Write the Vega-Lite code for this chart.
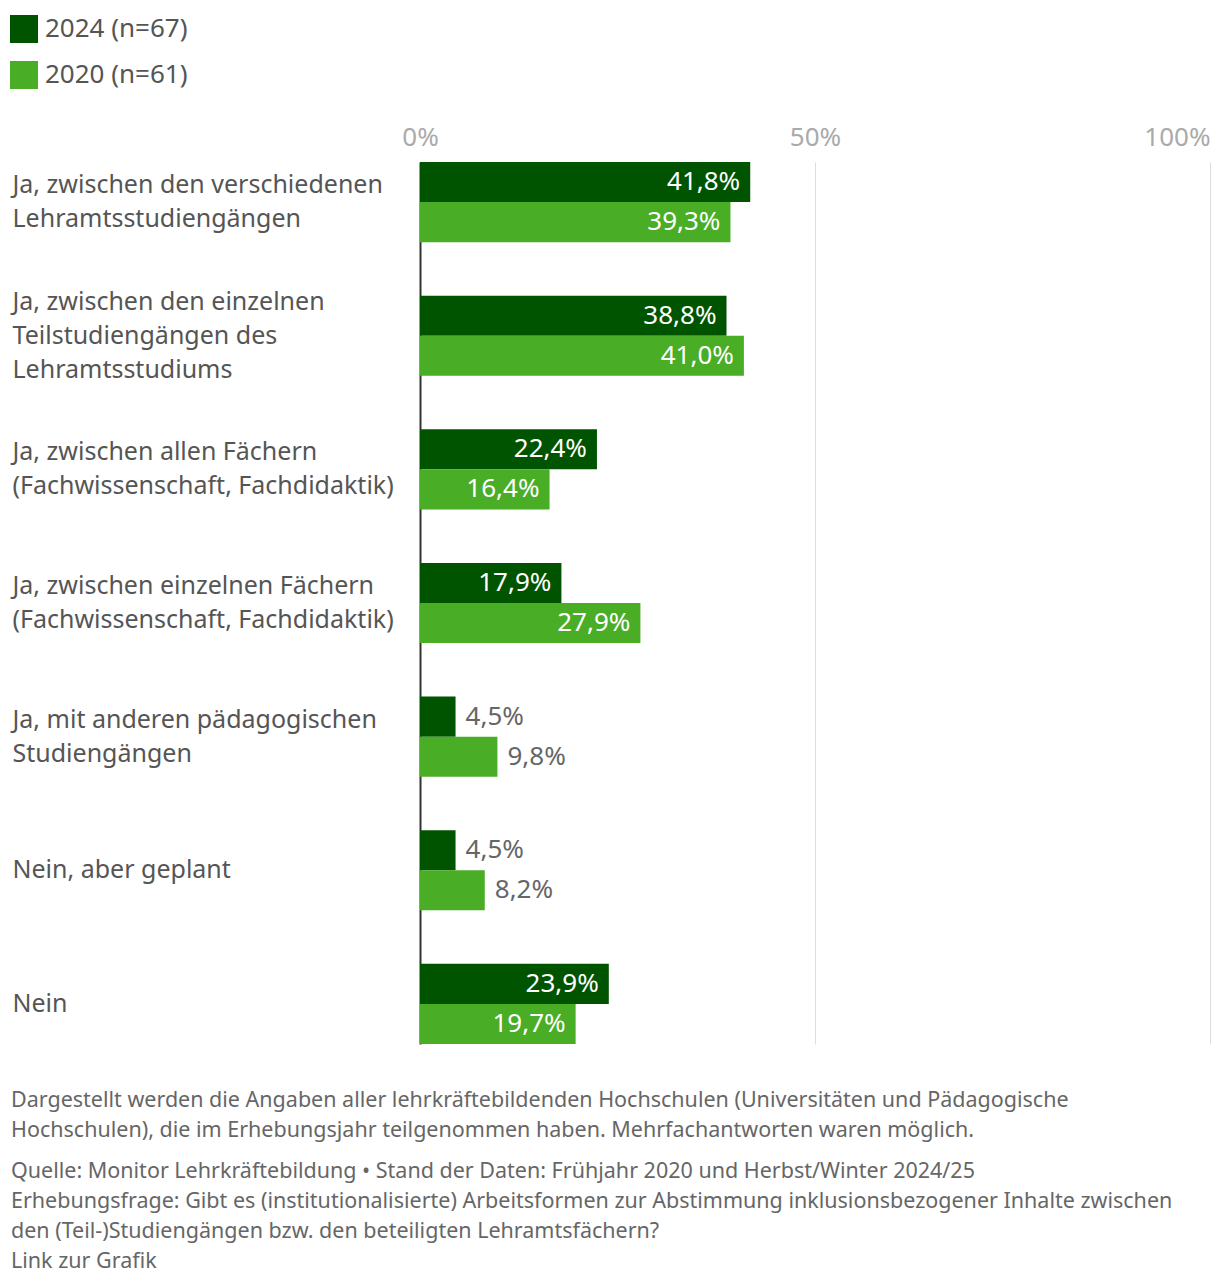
{
  "$schema": "https://vega.github.io/schema/vega-lite/v6.json",
  "width": 790,
  "height": 882,
  "autosize": {"type": "none"},
  "padding": {"left": 420, "top": 162, "right": 10, "bottom": 240},
  "background": "white",
  "config": {
    "locale": {"number": {"decimal": ",", "thousands": ".", "grouping": [3], "currency": ["", " €"]}},
    "font": "Noto Sans",
    "view": {"stroke": null}
  },
  "title": {
    "text": [
      "Dargestellt werden die Angaben aller lehrkräftebildenden Hochschulen (Universitäten und Pädagogische",
      "Hochschulen), die im Erhebungsjahr teilgenommen haben. Mehrfachantworten waren möglich."
    ],
    "subtitle": [
      "Quelle: Monitor Lehrkräftebildung • Stand der Daten: Frühjahr 2020 und Herbst/Winter 2024/25",
      "Erhebungsfrage: Gibt es (institutionalisierte) Arbeitsformen zur Abstimmung inklusionsbezogener Inhalte zwischen",
      "den (Teil-)Studiengängen bzw. den beteiligten Lehramtsfächern?",
      "Link zur Grafik"
    ],
    "orient": "bottom",
    "anchor": "start",
    "frame": "group",
    "dx": -409,
    "offset": 46,
    "fontSize": 21.5,
    "fontWeight": "normal",
    "color": "#666666",
    "lineHeight": 30,
    "subtitleFontSize": 21.5,
    "subtitleColor": "#666666",
    "subtitleLineHeight": 30,
    "subtitlePadding": 19
  },
  "data": {
    "values": [
      {"answer": "Ja, zwischen den verschiedenen\nLehramtsstudiengängen", "year": "2024 (n=67)", "value": 0.418},
      {"answer": "Ja, zwischen den verschiedenen\nLehramtsstudiengängen", "year": "2020 (n=61)", "value": 0.393},
      {"answer": "Ja, zwischen den einzelnen\nTeilstudiengängen des\nLehramtsstudiums", "year": "2024 (n=67)", "value": 0.388},
      {"answer": "Ja, zwischen den einzelnen\nTeilstudiengängen des\nLehramtsstudiums", "year": "2020 (n=61)", "value": 0.41},
      {"answer": "Ja, zwischen allen Fächern\n(Fachwissenschaft, Fachdidaktik)", "year": "2024 (n=67)", "value": 0.224},
      {"answer": "Ja, zwischen allen Fächern\n(Fachwissenschaft, Fachdidaktik)", "year": "2020 (n=61)", "value": 0.164},
      {"answer": "Ja, zwischen einzelnen Fächern\n(Fachwissenschaft, Fachdidaktik)", "year": "2024 (n=67)", "value": 0.179},
      {"answer": "Ja, zwischen einzelnen Fächern\n(Fachwissenschaft, Fachdidaktik)", "year": "2020 (n=61)", "value": 0.279},
      {"answer": "Ja, mit anderen pädagogischen\nStudiengängen", "year": "2024 (n=67)", "value": 0.045},
      {"answer": "Ja, mit anderen pädagogischen\nStudiengängen", "year": "2020 (n=61)", "value": 0.098},
      {"answer": "Nein, aber geplant", "year": "2024 (n=67)", "value": 0.045},
      {"answer": "Nein, aber geplant", "year": "2020 (n=61)", "value": 0.082},
      {"answer": "Nein", "year": "2024 (n=67)", "value": 0.239},
      {"answer": "Nein", "year": "2020 (n=61)", "value": 0.197}
    ]
  },
  "encoding": {
    "y": {
      "field": "answer",
      "type": "nominal",
      "sort": null,
      "scale": {"paddingInner": 0.4, "paddingOuter": 0},
      "axis": {
        "title": null,
        "orient": "left",
        "ticks": false,
        "domain": true,
        "domainColor": "#333333",
        "domainWidth": 2,
        "labelAlign": "left",
        "labelBaseline": "middle",
        "labelPadding": 408,
        "labelLimit": 420,
        "labelFontSize": 25,
        "labelLineHeight": 34,
        "labelColor": "#555555",
        "labelOffset": {
          "condition": [
            {"test": "length(split(datum.value, '\\n')) == 3", "value": -34},
            {"test": "length(split(datum.value, '\\n')) == 2", "value": -17}
          ],
          "value": 0
        },
        "labelExpr": "split(datum.label, '\\n')"
      }
    },
    "yOffset": {
      "field": "year",
      "type": "nominal",
      "sort": ["2024 (n=67)", "2020 (n=61)"]
    },
    "x": {
      "field": "value",
      "type": "quantitative",
      "scale": {"domain": [0, 1]},
      "axis": {
        "title": null,
        "orient": "top",
        "values": [0, 0.5, 1],
        "format": "%",
        "ticks": false,
        "domain": false,
        "grid": true,
        "gridColor": "#dddddd",
        "gridWidth": 1,
        "labelFontSize": 26,
        "labelColor": "#aaaaaa",
        "labelPadding": 12,
        "labelAlign": {"condition": {"test": "datum.value == 1", "value": "right"}, "value": "center"}
      }
    }
  },
  "layer": [
    {
      "mark": {"type": "bar"},
      "encoding": {
        "color": {
          "field": "year",
          "type": "nominal",
          "scale": {"domain": ["2024 (n=67)", "2020 (n=61)"], "range": ["#005400", "#49ad26"]},
          "legend": {
            "title": null,
            "orient": "none",
            "legendX": -410,
            "legendY": -147,
            "symbolType": "square",
            "symbolSize": 784,
            "symbolStrokeWidth": 0,
            "symbolOpacity": 1,
            "labelFontSize": 26,
            "labelColor": "#555555",
            "labelOffset": 7,
            "rowPadding": 18
          }
        }
      }
    },
    {
      "transform": [{"filter": "datum.value >= 0.12"}],
      "mark": {"type": "text", "align": "right", "baseline": "middle", "dx": -10, "fontSize": 26, "color": "white"},
      "encoding": {"text": {"field": "value", "type": "quantitative", "format": ".1%"}}
    },
    {
      "transform": [{"filter": "datum.value < 0.12"}],
      "mark": {"type": "text", "align": "left", "baseline": "middle", "dx": 10, "fontSize": 26, "color": "#666666"},
      "encoding": {"text": {"field": "value", "type": "quantitative", "format": ".1%"}}
    }
  ]
}
